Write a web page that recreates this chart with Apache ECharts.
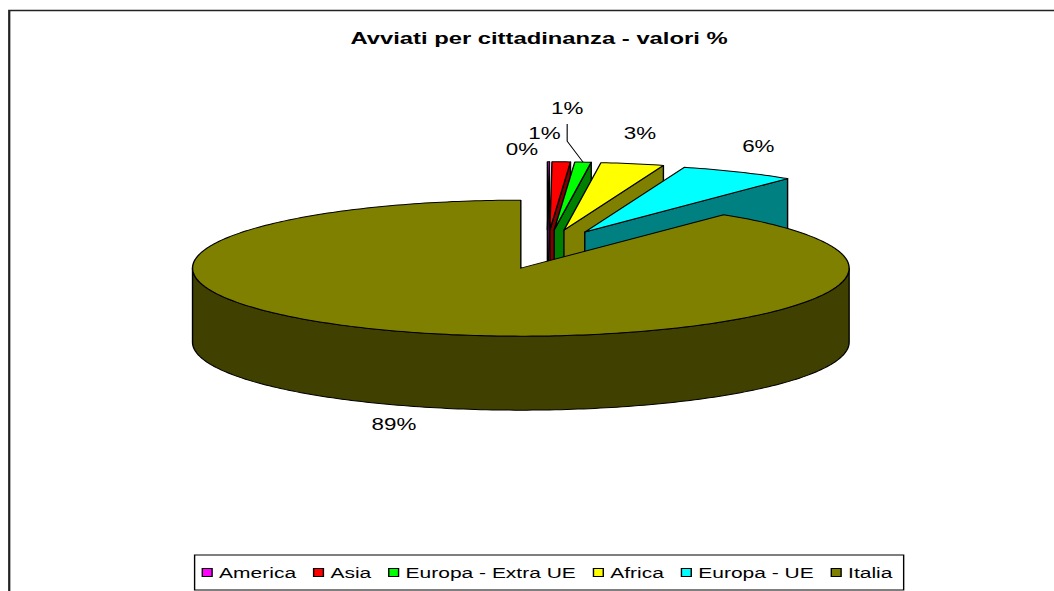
<!DOCTYPE html>
<html>
<head>
<meta charset="utf-8">
<title>Avviati per cittadinanza</title>
<script src="https://cdn.jsdelivr.net/npm/echarts@6/dist/echarts.min.js"></script>
<style>
  html, body { margin: 0; padding: 0; background: #fff; overflow: hidden; }
  /* the original picture is a horizontally stretched Excel chart */
  #main { width: 753px; height: 591px; transform: scaleX(1.4); transform-origin: 0 0; }
</style>
</head>
<body>
<div id="main"></div>
<script>
// data
const categories = ['America', 'Asia', 'Europa - Extra UE', 'Africa', 'Europa - UE', 'Italia'];
const shares = [0.1, 0.9, 0.8, 3.1, 5.7, 89.4];

// colours: top face and darker side face of every slice
const topColors = ['#FF00FF', '#FF0000', '#00FF00', '#FFFF00', '#00FFFF', '#808000'];
const sideColors = ['#800080', '#800000', '#008000', '#808000', '#008080', '#404000'];

// layout of the tilted pie (unstretched px)
const PIE = { cx: 390.8, cy: 249.5, rx: 234.5, ry: 68, depth: 74, explodeX: 0.245, explodeY: 0.29 };
// label shifts like Excel's, [dx, dy, leader line]
const labelNudge = [[-19, 13], [-13, -3], [-14, -28, true], [-1, -4], [0, 0], [-4, -8]];

const total = shares.reduce((a, b) => a + b, 0);
const sinD = d => Math.sin(d * Math.PI / 180);
const cosD = d => Math.cos(d * Math.PI / 180);

function sliceAngles(i) {
  let before = 0;
  for (let k = 0; k < i; k++) before += shares[k];
  return [before / total * 360, (before + shares[i]) / total * 360];
}

function renderSlice(params, api) {
  const i = api.value(0);
  const [a1, a2] = sliceAngles(i);
  const m = (a1 + a2) / 2;
  const h = PIE.depth;
  // every slice is pulled out along its middle
  const ax = PIE.cx + PIE.explodeX * PIE.rx * sinD(m);
  const ay = PIE.cy - PIE.explodeY * PIE.ry * cosD(m);
  const rim = (deg, dz) => [ax + PIE.rx * sinD(deg), ay - PIE.ry * cosD(deg) + dz];
  const arc = (from, to, dz) => {
    const n = Math.max(2, Math.ceil(Math.abs(to - from)));
    const pts = [];
    for (let k = 0; k <= n; k++) pts.push(rim(from + (to - from) * k / n, dz));
    return pts;
  };
  const children = [];
  const face = (points, fill) => children.push({
    type: 'polygon', shape: { points },
    style: { fill, stroke: '#000', lineWidth: 1, lineJoin: 'round' }
  });

  // cut faces that look at the viewer
  if (a1 > 180 && a1 < 360) face([[ax, ay], rim(a1, 0), rim(a1, h), [ax, ay + h]], sideColors[i]);
  if (a2 > 0 && a2 < 180) face([[ax, ay], rim(a2, 0), rim(a2, h), [ax, ay + h]], sideColors[i]);
  // front wall
  const w1 = Math.max(a1, 90), w2 = Math.min(a2, 270);
  if (w2 > w1) face(arc(w1, w2, 0).concat(arc(w2, w1, h)), sideColors[i]);
  // top
  face([[ax, ay]].concat(arc(a1, a2, 0)), topColors[i]);

  // percentage label
  const c = cosD(m), s = sinD(m);
  const nd = labelNudge[i];
  const lx = ax + 1.13 * PIE.rx * s + nd[0];
  const ly = ay - PIE.ry * c - 26 * Math.sign(c) + (c < 0 ? h : 0) + nd[1];
  children.push({
    type: 'text', x: lx, y: ly,
    style: {
      text: Math.round(shares[i] / total * 100) + '%',
      fill: '#000', fontSize: 16, fontFamily: '"Liberation Sans", Arial',
      align: 'center', verticalAlign: 'middle'
    }
  });
  if (nd[2]) {
    children.push({
      type: 'polyline',
      shape: { points: [[lx, ly + 16], [lx, ly + 33], rim(m, 0)] },
      style: { stroke: '#000', lineWidth: 0.8, fill: null }
    });
  }
  return { type: 'group', children };
}

const chart = echarts.init(document.getElementById('main'), null, { renderer: 'svg' });

chart.setOption({
  animation: false,
  title: {
    text: 'Avviati per cittadinanza - valori %',
    left: 385, top: 29, textAlign: 'center', padding: 0,
    textStyle: { fontFamily: '"Liberation Sans", Arial', fontWeight: 'bold', fontSize: 17, color: '#000' }
  },
  legend: {
    data: categories,
    left: 139, top: 555,
    padding: [10, 8, 10, 5],
    itemGap: 12, itemWidth: 7, itemHeight: 8,
    icon: 'rect',
    itemStyle: { borderColor: '#000', borderWidth: 1 },
    borderColor: '#000', borderWidth: 1,
    textStyle: { fontFamily: '"Liberation Sans", Arial', fontSize: 15, color: '#000' },
    selectedMode: false
  },
  graphic: [{
    type: 'rect', silent: true,
    shape: { x: 6.6, y: 10.5, width: 1000, height: 1000 },
    style: { fill: 'none', stroke: '#222', lineWidth: 1.6 }
  }],
  series: categories.map((name, i) => ({
    type: 'custom',
    name,
    coordinateSystem: 'none',
    renderItem: renderSlice,
    data: [[i]],
    itemStyle: { color: topColors[i] },
    silent: true
  }))
});
</script>
</body>
</html>
